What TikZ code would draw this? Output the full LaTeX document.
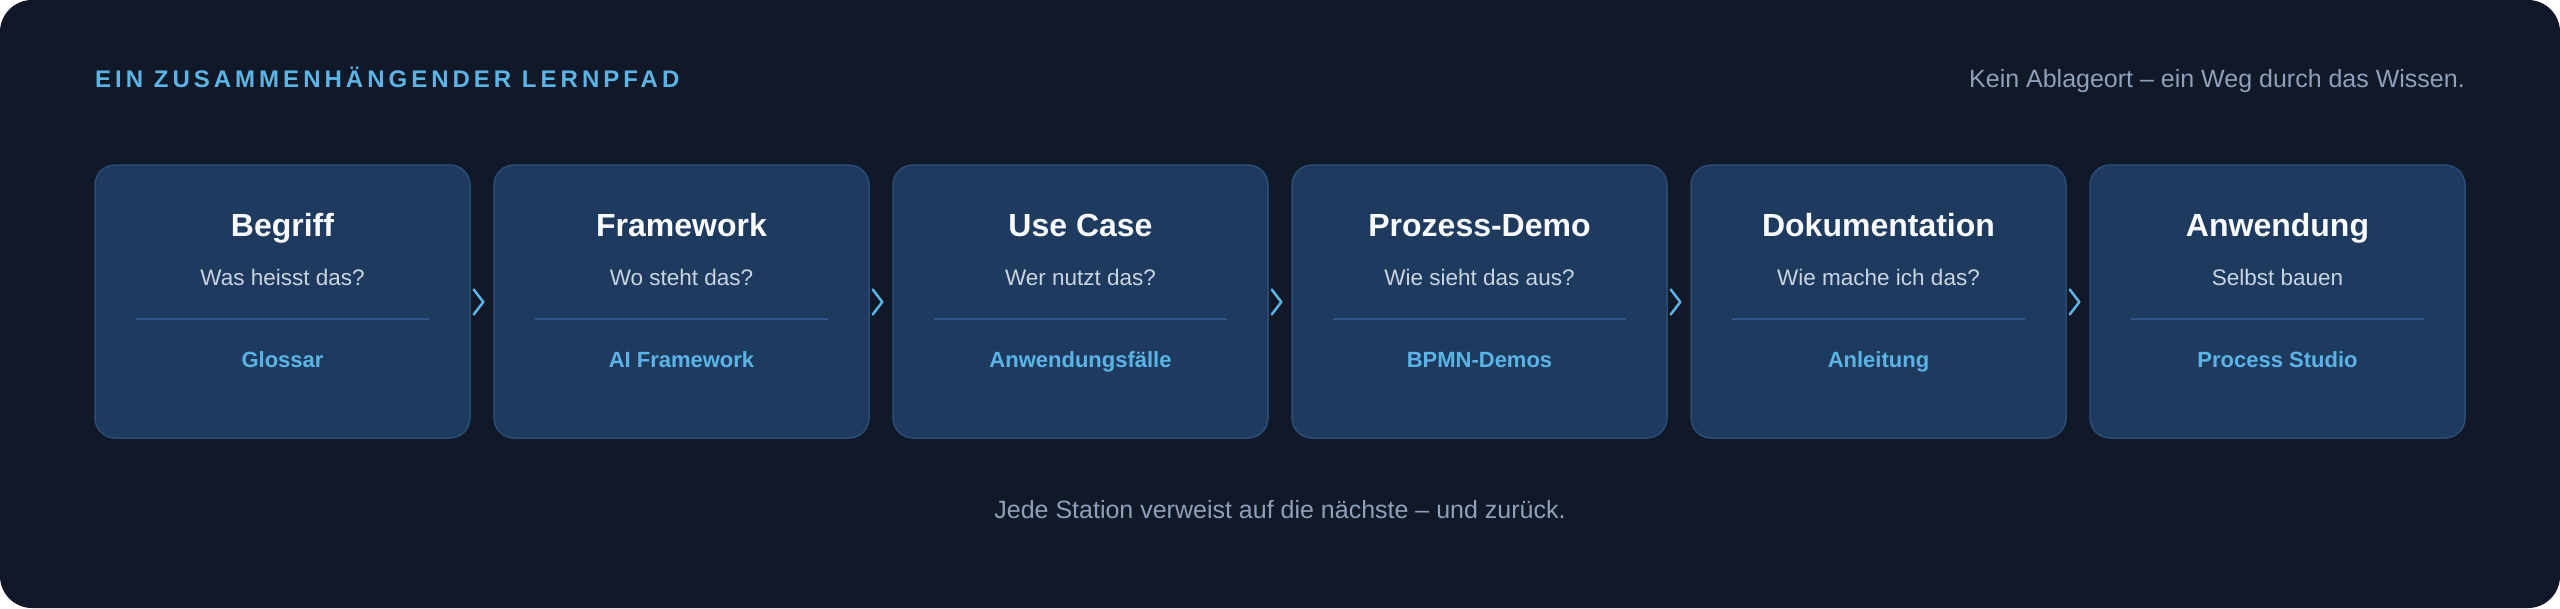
\documentclass[tikz,border=0pt]{standalone}
\usepackage{fontspec}
\setmainfont{Liberation Sans}
\newfontfamily\spacedfont[LetterSpace=16.7]{Liberation Sans}
\usetikzlibrary{calc}
\definecolor{bgdark}{HTML}{111827}
\definecolor{cardfill}{HTML}{1E3A5F}
\definecolor{cardborder}{HTML}{2B4C76}
\definecolor{divcol}{HTML}{30558A}
\definecolor{subtxt}{HTML}{CBD5E1}
\definecolor{linkblue}{HTML}{5BB4E5}
\definecolor{muted}{HTML}{8FA1BA}
\definecolor{titlewhite}{HTML}{F8FAFC}
\tikzset{
  card/.style={draw=cardborder, line width=1.5pt, fill=cardfill, rounded corners=20pt,
    minimum width=375pt, minimum height=273pt, inner sep=0pt},
  ttl/.style={anchor=base, inner sep=0pt, text=titlewhite, font=\fontsize{32}{38}\selectfont\bfseries},
  sub/.style={anchor=base, inner sep=0pt, text=subtxt, font=\fontsize{22.5}{27}\selectfont},
  lnk/.style={anchor=base, inner sep=0pt, text=linkblue, font=\fontsize{22}{26}\selectfont\bfseries},
  divider/.style={draw=divcol, line width=1.5pt},
  chev/.style={draw=linkblue, line width=2.5pt, line cap=round, line join=round},
  header/.style={anchor=base west, inner sep=0pt, text=linkblue, font=\spacedfont\fontsize{24}{28}\selectfont\bfseries},
  mutedtxt/.style={inner sep=0pt, text=muted, font=\fontsize{25}{30}\selectfont},
}
\begin{document}
\begin{tikzpicture}[x=1pt,y=-1pt]
\useasboundingbox (0,0) rectangle (2560,608);
\fill[white] (0,0) rectangle (2560,608);
\fill[bgdark, rounded corners=32pt] (0,0) rectangle (2560,608);

\node[header] (head) at (95,87) {EIN ZUSAMMENHÄNGENDER LERNPFAD};
\node[mutedtxt, anchor=base east] (tagline) at (2465,87) {Kein Ablageort – ein Weg durch das Wissen.};

\foreach \i/\t/\s/\l in {1/Begriff/Was heisst das?/Glossar,
                         2/Framework/Wo steht das?/AI Framework,
                         3/Use Case/Wer nutzt das?/Anwendungsfälle,
                         4/Prozess-Demo/Wie sieht das aus?/BPMN-Demos,
                         5/Dokumentation/Wie mache ich das?/Anleitung,
                         6/Anwendung/Selbst bauen/Process Studio}{
  \pgfmathsetmacro\cx{282.5+399*(\i-1)}
  \node[card] (c\i) at (\cx,301.5) {};
  \node[ttl] (t\i) at (\cx,236) {\t};
  \node[sub] (s\i) at (\cx,285) {\s};
  \draw[divider] ($(c\i.west)+(42,17.5)$) -- ($(c\i.east)+(-42,17.5)$);
  \node[lnk] (l\i) at (\cx,367) {\l};
}

\foreach \i [evaluate=\i as \j using int(\i+1)] in {1,...,5}{
  \coordinate (m\i) at ($(c\i.east)!0.5!(c\j.west)$);
  \draw[chev] ($(m\i)+(-8.3,-12)$) -- ($(m\i)+(1.3,0.5)$) -- ($(m\i)+(-8.3,13)$);
}

\node[mutedtxt, anchor=base] (foot) at (1280,518) {Jede Station verweist auf die nächste – und zurück.};
\end{tikzpicture}
\end{document}
